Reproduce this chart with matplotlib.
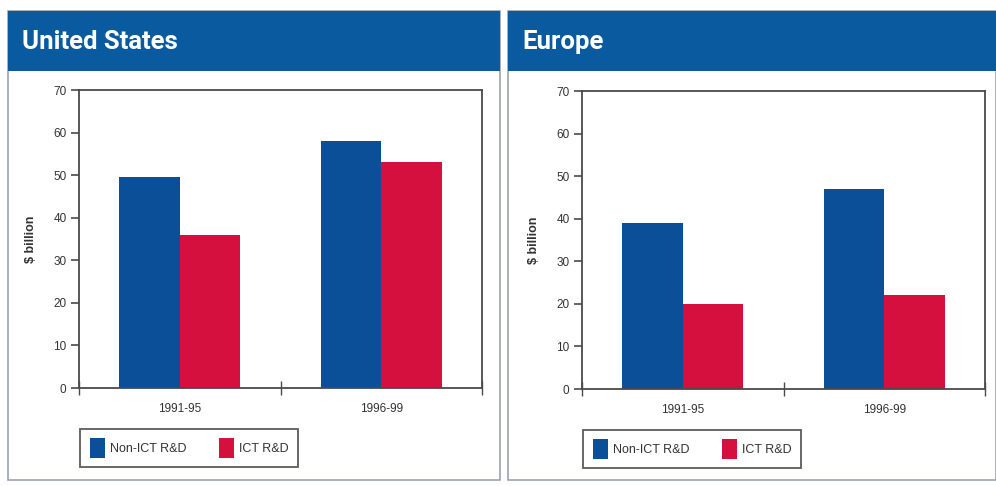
import matplotlib.pyplot as plt
from matplotlib.patches import Rectangle, Patch

periods = ['1991-95', '1996-99']
us_non_ict = [49.5, 58]
us_ict = [36, 53]
eu_non_ict = [39, 47]
eu_ict = [20, 22]
regions = ['United States', 'Europe']

BLUE = '#0B4F98'
RED = '#D5103F'
HEADER = '#0A5AA0'
AXIS = '#4a4a4a'

plt.rcParams['font.family'] = ['Liberation Sans', 'DejaVu Sans']


def panel(fig, x0, x1, title):
    W, H = 996, 486
    # white card with thin border
    fig.patches.append(Rectangle((x0 / W, 1 - 480 / H), (x1 - x0) / W, (480 - 11) / H,
                                 transform=fig.transFigure, facecolor='white',
                                 edgecolor='#9aa4b0', linewidth=1.2, zorder=-2))
    # blue title strip
    fig.patches.append(Rectangle((x0 / W, 1 - 71 / H), (x1 - x0) / W, 60 / H,
                                 transform=fig.transFigure, facecolor=HEADER,
                                 edgecolor='none', zorder=-1))
    fig.text((x0 + 14) / W, 1 - 42 / H, title, color='white', fontsize=18.5,
             fontweight='bold', family='Roboto', va='center', ha='left')


def bars(ax, non_ict, ict):
    x = [0.5, 1.5]
    ax.bar([v - 0.15 for v in x], non_ict, width=0.3, color=BLUE, zorder=2)
    ax.bar([v + 0.15 for v in x], ict, width=0.3, color=RED, zorder=2)
    ax.set_xlim(0, 2)
    ax.set_ylim(0, 70)
    ax.set_yticks(range(0, 71, 10))
    ax.set_xticks([0, 1, 2])
    ax.set_xticklabels([])
    for xi, lab in zip(x, periods):
        ax.text(xi, -0.05, lab, transform=ax.get_xaxis_transform(),
                ha='center', va='top', fontsize=8.5, color='#333333')
    for s in ax.spines.values():
        s.set_color(AXIS)
        s.set_linewidth(1.3)
    ax.tick_params(axis='y', length=6, width=1.2, color=AXIS, labelsize=8.5,
                   labelcolor='#333333', pad=3)
    ax.tick_params(axis='x', direction='inout', length=10, width=1, color=AXIS)
    ax.set_ylabel('$ billion', fontsize=9, fontweight='bold', color='#333333', labelpad=12)
    handles = [Patch(facecolor=BLUE, label='Non-ICT R&D'),
               Patch(facecolor=RED, label='ICT R&D')]
    ax.legend(handles=handles, loc='upper left', bbox_to_anchor=(0.003, -0.137),
              borderaxespad=0, ncol=2, frameon=True, fancybox=False,
              edgecolor='#333333', fontsize=9, handlelength=1.2, handleheight=2.0,
              columnspacing=2.6, handletextpad=0.4, borderpad=0.75,
              labelcolor='#333333')
    ax.get_legend().get_frame().set_linewidth(1.3)


fig = plt.figure(figsize=(9.96, 4.86), dpi=100)
panel(fig, 8, 500, regions[0])
panel(fig, 508, 996, regions[1])

ax1 = fig.add_axes([79 / 996, 1 - 388 / 486, 403 / 996, 298 / 486])
bars(ax1, us_non_ict, us_ict)
ax2 = fig.add_axes([582 / 996, 1 - 389 / 486, 403 / 996, 298 / 486])
bars(ax2, eu_non_ict, eu_ict)

fig.savefig('out.png', dpi=100)
